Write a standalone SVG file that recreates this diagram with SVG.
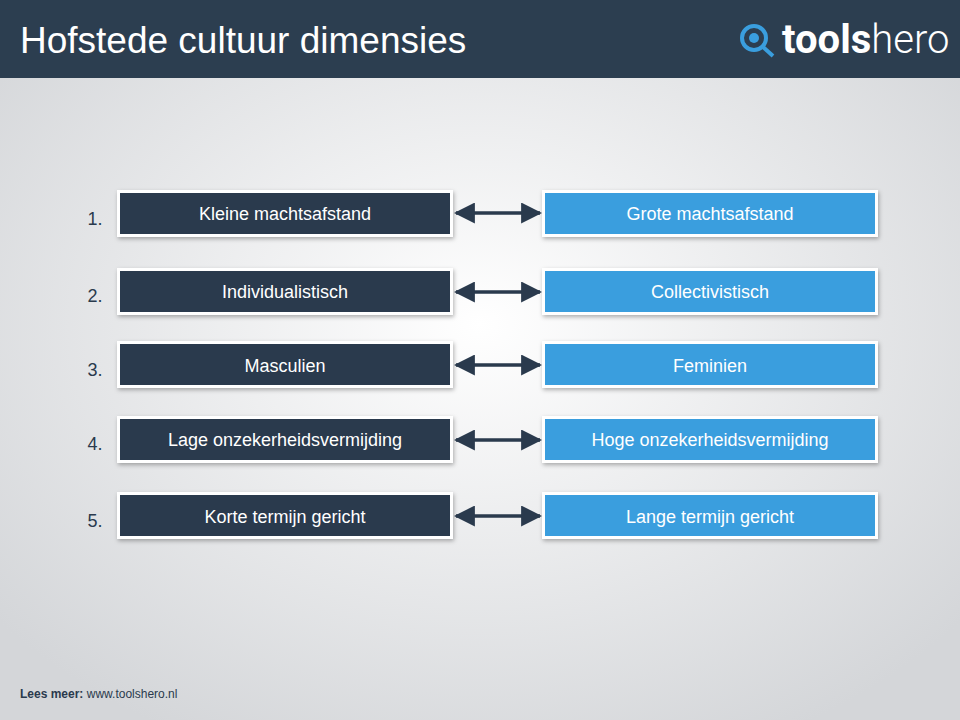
<svg xmlns="http://www.w3.org/2000/svg" width="960" height="720" viewBox="0 0 960 720">
<defs>
<radialGradient id="bg" cx="50%" cy="45%" r="65%">
<stop offset="0" stop-color="#ffffff"/><stop offset="1" stop-color="#d4d6d9"/>
</radialGradient>
<filter id="sh" x="-10%" y="-30%" width="120%" height="160%"><feDropShadow dx="1" dy="2" stdDeviation="2" flood-color="#000" flood-opacity="0.3"/></filter>
<marker id="ah" viewBox="0 0 10 10" refX="9" refY="5" markerWidth="6" markerHeight="6" orient="auto-start-reverse"><path d="M0,0 L10,5 L0,10 z" fill="#2a3a4d"/></marker>
</defs>
<style>
.frame{fill:#fff;filter:url(#sh)}
.d{fill:#2a3a4d}.l{fill:#3a9ede}
.t{font-family:"Liberation Sans",Arial,sans-serif;font-size:18px;fill:#fff;text-anchor:middle}
.n{font-family:"Liberation Sans",Arial,sans-serif;font-size:18px;fill:#2a3a4d;text-anchor:middle}
.c{stroke:#2a3a4d;stroke-width:3.5;marker-start:url(#ah);marker-end:url(#ah)}
</style>
<rect width="960" height="720" fill="url(#bg)"/>
<rect width="960" height="78" fill="#2c3e50"/>
<text x="20" y="53" font-family="Liberation Sans,Arial,sans-serif" font-size="37" fill="#fff">Hofstede cultuur dimensies</text>
<g id="logo">
<circle cx="754" cy="38" r="12" fill="none" stroke="#3a9ede" stroke-width="4"/>
<circle cx="754" cy="38" r="5" fill="#3a9ede"/>
<line x1="763" y1="47" x2="773" y2="56" stroke="#3a9ede" stroke-width="4"/>
<text x="782" y="53" font-family="Roboto,Liberation Sans,sans-serif" font-size="40" fill="#fff"><tspan font-weight="bold">tools</tspan><tspan font-weight="300">hero</tspan></text>
</g>
<g id="n1"><text class="n" x="95" y="225">1.</text>
<rect class="frame" x="117" y="190" width="336" height="47"/><rect class="d" x="120" y="193" width="330" height="41"/><text class="t" x="285" y="220">Kleine machtsafstand</text>
<rect class="frame" x="542" y="190" width="336" height="47"/><rect class="l" x="545" y="193" width="330" height="41"/><text class="t" x="710" y="220">Grote machtsafstand</text></g>
<g id="n2"><text class="n" x="95" y="302">2.</text>
<rect class="frame" x="117" y="268" width="336" height="47"/><rect class="d" x="120" y="271" width="330" height="41"/><text class="t" x="285" y="298">Individualistisch</text>
<rect class="frame" x="542" y="268" width="336" height="47"/><rect class="l" x="545" y="271" width="330" height="41"/><text class="t" x="710" y="298">Collectivistisch</text></g>
<g id="n3"><text class="n" x="95" y="376">3.</text>
<rect class="frame" x="117" y="341" width="336" height="47"/><rect class="d" x="120" y="344" width="330" height="41"/><text class="t" x="285" y="372">Masculien</text>
<rect class="frame" x="542" y="341" width="336" height="47"/><rect class="l" x="545" y="344" width="330" height="41"/><text class="t" x="710" y="372">Feminien</text></g>
<g id="n4"><text class="n" x="95" y="450">4.</text>
<rect class="frame" x="117" y="416" width="336" height="47"/><rect class="d" x="120" y="419" width="330" height="41"/><text class="t" x="285" y="446">Lage onzekerheidsvermijding</text>
<rect class="frame" x="542" y="416" width="336" height="47"/><rect class="l" x="545" y="419" width="330" height="41"/><text class="t" x="710" y="446">Hoge onzekerheidsvermijding</text></g>
<g id="n5"><text class="n" x="95" y="527">5.</text>
<rect class="frame" x="117" y="492" width="336" height="47"/><rect class="d" x="120" y="495" width="330" height="41"/><text class="t" x="285" y="523">Korte termijn gericht</text>
<rect class="frame" x="542" y="492" width="336" height="47"/><rect class="l" x="545" y="495" width="330" height="41"/><text class="t" x="710" y="523">Lange termijn gericht</text></g>
<g id="connectors">
<line class="c" x1="456" y1="213" x2="540" y2="213"/>
<line class="c" x1="456" y1="292" x2="540" y2="292"/>
<line class="c" x1="456" y1="365" x2="540" y2="365"/>
<line class="c" x1="456" y1="440" x2="540" y2="440"/>
<line class="c" x1="456" y1="516" x2="540" y2="516"/>
</g>
<text x="20" y="698" font-family="Liberation Sans,Arial,sans-serif" font-size="12" fill="#2a3a4d"><tspan font-weight="bold">Lees meer:</tspan> www.toolshero.nl</text>
</svg>
